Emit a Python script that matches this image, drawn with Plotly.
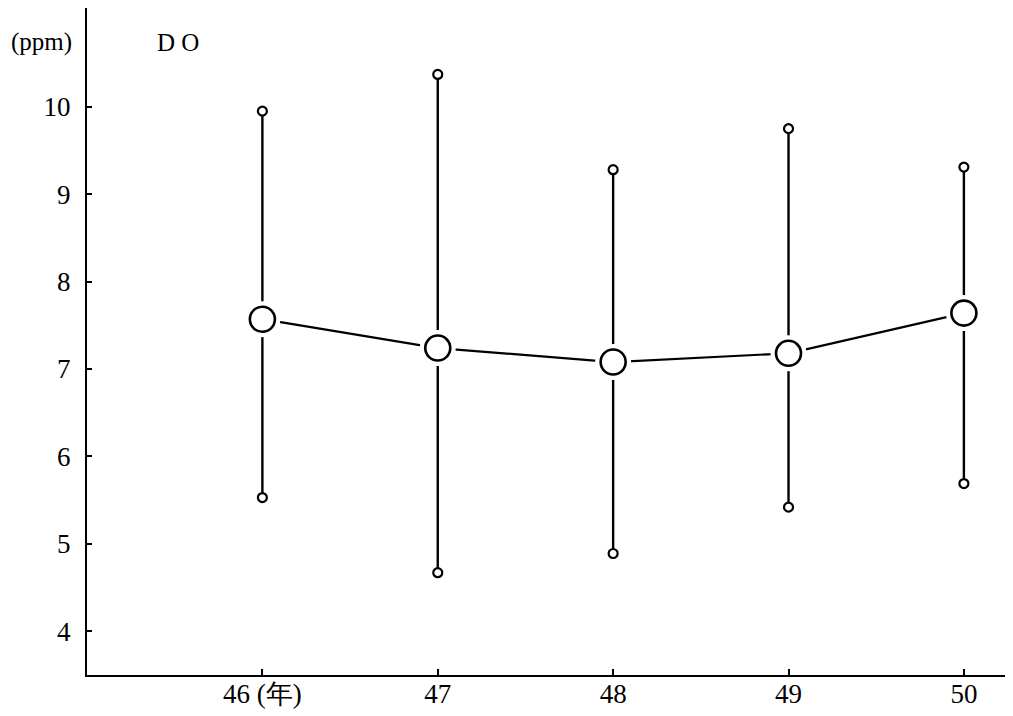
import plotly.graph_objects as go

years = [46, 47, 48, 49, 50]
year_labels = ["46 (年)", "47", "48", "49", "50"]
do_mean = [7.57, 7.24, 7.08, 7.18, 7.64]
do_max = [9.95, 10.37, 9.28, 9.75, 9.31]
do_min = [5.53, 4.67, 4.89, 5.42, 5.69]
y_ticks = [4, 5, 6, 7, 8, 9, 10]

FONT = "Liberation Serif"

# page body has an 8px margin; compensate so the plot lands where the reference has it
W, H = 1005, 708
ML, MR, MT, MB = 79, 0, 0, 41
PW, PH = W - ML - MR, H - MT - MB


def px_x(px):
    return (px - 8 - ML) / PW


def px_y(py):
    return 1 - (py - 8 - MT) / PH


fig = go.Figure()

for x, lo, hi in zip(years, do_min, do_max):
    fig.add_trace(go.Scatter(x=[x, x], y=[lo, hi], mode="lines",
                             line=dict(color="black", width=2.4),
                             hoverinfo="skip", showlegend=False))

fig.add_trace(go.Scatter(x=years, y=do_mean, mode="lines",
                         line=dict(color="black", width=2.2),
                         showlegend=False))

fig.add_trace(go.Scatter(x=years, y=do_mean, mode="markers",
                         marker=dict(size=36, color="white", line=dict(width=0)),
                         hoverinfo="skip", showlegend=False))

fig.add_trace(go.Scatter(x=years + years, y=do_max + do_min, mode="markers",
                         marker=dict(size=9, color="white",
                                     line=dict(color="black", width=2.2)),
                         showlegend=False))

fig.add_trace(go.Scatter(x=years, y=do_mean, mode="markers",
                         marker=dict(size=25, color="white",
                                     line=dict(color="black", width=2.6)),
                         showlegend=False))

fig.update_layout(
    width=W, height=H,
    margin=dict(l=ML, r=MR, t=MT, b=MB),
    paper_bgcolor="white", plot_bgcolor="white",
    font=dict(family=FONT, size=27, color="black"),
    showlegend=False,
    xaxis=dict(range=[45.0, 50.28], tickvals=years, ticktext=year_labels,
               showgrid=False, zeroline=False, showline=True,
               linecolor="black", linewidth=2,
               ticks="inside", ticklen=6, tickwidth=2, tickcolor="black",
               ticklabelstandoff=-6),
    yaxis=dict(range=[3.5, 11.13], tickvals=y_ticks,
               showgrid=False, zeroline=False, showline=True,
               linecolor="black", linewidth=2,
               ticks="inside", ticklen=5, tickwidth=2, tickcolor="black",
               ticklabelstandoff=9),
    annotations=[
        dict(text="(ppm)", xref="paper", yref="paper",
             x=px_x(41), y=px_y(42), xanchor="center", yanchor="middle",
             showarrow=False, font=dict(family=FONT, size=25)),
        dict(text="D O", xref="paper", yref="paper",
             x=px_x(178), y=px_y(42), xanchor="center", yanchor="middle",
             showarrow=False, font=dict(family=FONT, size=25)),
    ],
)

fig.write_html("out.html")
